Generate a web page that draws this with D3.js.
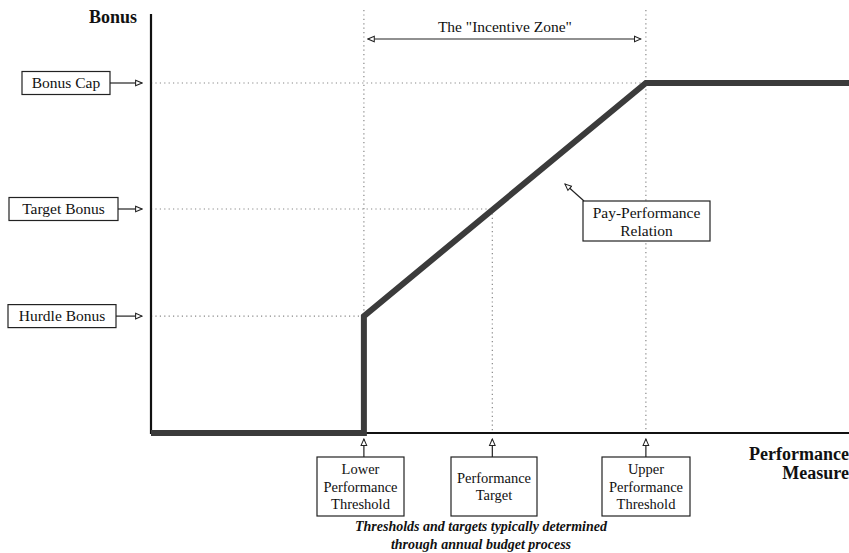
<!DOCTYPE html>
<html><head><meta charset="utf-8">
<script src="https://cdn.jsdelivr.net/npm/d3@7"></script>
<style>body{margin:0;background:#fff}svg{display:block}text{font-family:"Liberation Serif","Times New Roman",serif;fill:#111}</style>
</head><body><svg id="c" width="849" height="553"></svg>
<script>
// Data
const perfLevels = [
  {key:"lower", x:30.5, label:["Lower","Performance","Threshold"]},
  {key:"target", x:48.9, label:["Performance","Target"]},
  {key:"upper", x:70.9, label:["Upper","Performance","Threshold"]}
];
const bonusLevels = [
  {key:"cap", y:100, label:"Bonus Cap", right:"upper"},
  {key:"target", y:64, label:"Target Bonus", right:"target"},
  {key:"hurdle", y:33.4, label:"Hurdle Bonus", right:"lower"}
];
const payX = [0, 30.5, 30.5, 70.9, 100];
const payY = [0, 0, 33.4, 100, 100];

const svg = d3.select("#c");
const x = d3.scaleLinear().domain([0,100]).range([151, 849]);
const y = d3.scaleLinear().domain([0,120]).range([433, 13]);

const defs = svg.append("defs");
defs.append("marker").attr("id","tri").attr("viewBox","0 0 10 10").attr("refX",9).attr("refY",5)
  .attr("markerWidth",8).attr("markerHeight",8).attr("orient","auto-start-reverse").attr("markerUnits","userSpaceOnUse")
  .append("path").attr("d","M1,1.5 L9,5 L1,8.5 Z").attr("fill","#fff").attr("stroke","#222").attr("stroke-width",1.3);

const px = k => perfLevels.find(d=>d.key===k).x;

// dotted guide lines
const dot = g => g.attr("stroke","#888").attr("stroke-width",1.2).attr("stroke-dasharray","1.2,3.2").attr("fill","none");
bonusLevels.forEach(b=>{
  svg.append("line").attr("x1",x(0)).attr("x2",x(px(b.right))).attr("y1",y(b.y)).attr("y2",y(b.y)).call(dot);
});
perfLevels.forEach(p=>{
  const top = p.key==="target" ? y(64) : 10;
  svg.append("line").attr("x1",x(p.x)).attr("x2",x(p.x)).attr("y1",top).attr("y2",y(0)).call(dot);
});

// axes
svg.append("line").attr("x1",x(0)).attr("x2",x(0)).attr("y1",y(120)+1).attr("y2",y(0)+1).attr("stroke","#111").attr("stroke-width",2.2);
svg.append("line").attr("x1",x(0)).attr("x2",x(100)).attr("y1",y(0)).attr("y2",y(0)).attr("stroke","#111").attr("stroke-width",2);

// pay line
const line = d3.line().x(d=>x(d[0])).y(d=>y(d[1]));
svg.append("path").datum(payX.map((v,i)=>[v,payY[i]])).attr("d",line)
  .attr("fill","none").attr("stroke","#3b3b3b").attr("stroke-width",6).attr("stroke-linejoin","miter");

// axis titles
svg.append("text").attr("x",137).attr("y",23).attr("text-anchor","end").attr("font-weight","bold").attr("font-size",18).text("Bonus");
svg.append("text").attr("x",849).attr("y",460).attr("text-anchor","end").attr("font-weight","bold").attr("font-size",18).text("Performance");
svg.append("text").attr("x",849).attr("y",479).attr("text-anchor","end").attr("font-weight","bold").attr("font-size",18).text("Measure");

// left labels
const boxL = {cap:[22,110], target:[9,118], hurdle:[8,116]};
bonusLevels.forEach(b=>{
  const [l,r] = boxL[b.key], cy = y(b.y);
  svg.append("rect").attr("x",l).attr("y",cy-11.5).attr("width",r-l).attr("height",23).attr("fill","#fff").attr("stroke","#222").attr("stroke-width",1.2);
  svg.append("text").attr("x",(l+r)/2).attr("y",cy+5).attr("text-anchor","middle").attr("font-size",15.5).text(b.label);
  svg.append("line").attr("x1",r).attr("x2",x(0)-9).attr("y1",cy).attr("y2",cy).attr("stroke","#222").attr("stroke-width",1.2).attr("marker-end","url(#tri)");
});

// bottom labels
const boxB = {lower:[317,404], target:[451,537], upper:[602,690]};
perfLevels.forEach(p=>{
  const [l,r] = boxB[p.key], cx = x(p.x);
  svg.append("rect").attr("x",l).attr("y",457).attr("width",r-l).attr("height",59).attr("fill","#fff").attr("stroke","#222").attr("stroke-width",1.2);
  svg.append("line").attr("x1",cx).attr("x2",cx).attr("y1",457).attr("y2",439).attr("stroke","#222").attr("stroke-width",1.2).attr("marker-end","url(#tri)");
  const n = p.label.length, lh = 17.5, start = 486.5 - (n-1)*lh/2 + 5;
  p.label.forEach((t,i)=>svg.append("text").attr("x",(l+r)/2).attr("y",start+i*lh).attr("text-anchor","middle").attr("font-size",14.5).text(t));
});

// footnote
svg.append("text").attr("x",481).attr("y",531).attr("text-anchor","middle").attr("font-style","italic").attr("font-weight","bold").attr("font-size",14).text("Thresholds and targets typically determined");
svg.append("text").attr("x",481).attr("y",549).attr("text-anchor","middle").attr("font-style","italic").attr("font-weight","bold").attr("font-size",14).text("through annual budget process");

// incentive zone
svg.append("text").attr("x",(x(px("lower"))+x(px("upper")))/2).attr("y",32).attr("text-anchor","middle").attr("font-size",15.5).text('The "Incentive Zone"');
svg.append("line").attr("x1",x(px("lower"))+4).attr("x2",x(px("upper"))-5).attr("y1",39).attr("y2",39).attr("stroke","#222").attr("stroke-width",1.2)
  .attr("marker-start","url(#tri)").attr("marker-end","url(#tri)");

// pay-performance callout
svg.append("rect").attr("x",583).attr("y",201).attr("width",127).attr("height",40).attr("fill","#fff").attr("stroke","#222").attr("stroke-width",1.2);
svg.append("text").attr("x",646.5).attr("y",218).attr("text-anchor","middle").attr("font-size",15.5).text("Pay-Performance");
svg.append("text").attr("x",646.5).attr("y",236).attr("text-anchor","middle").attr("font-size",15.5).text("Relation");
svg.append("line").attr("x1",584).attr("x2",565).attr("y1",201).attr("y2",184).attr("stroke","#222").attr("stroke-width",1.2).attr("marker-end","url(#tri)");
</script></body></html>
